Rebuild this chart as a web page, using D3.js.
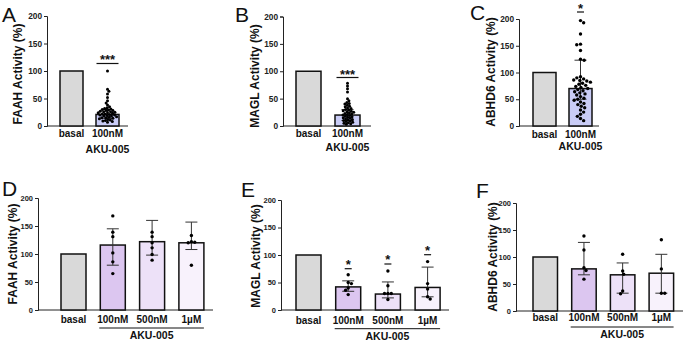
<!DOCTYPE html>
<html><head><meta charset="utf-8">
<script src="https://cdn.jsdelivr.net/npm/d3@7"></script>
<style>
html,body{margin:0;padding:0;background:#fff;}
svg{display:block;font-family:"Liberation Sans",Arial,sans-serif;}
</style></head>
<body>
<svg id="chart" width="685" height="342"></svg>
<script>
// ---------- DATA ----------
const yTicks = [0, 50, 100, 150, 200];
const catsTop = ["basal", "100nM"];
const catsBottom = ["basal", "100nM", "500nM", "1µM"];
const groupLabel = "AKU-005";
const letters = ["A", "B", "C", "D", "E", "F"];
const yTitles = ["FAAH Activity (%)", "MAGL Activity (%)", "ABHD6 Activity (%)",
                 "FAAH Activity (%)", "MAGL Activity (%)", "ABHD6 Activity (%)"];

// Panel A – FAAH, top
const barsA = [100, 21];
const pointsA = [[], [100, 67, 63, 58, 52, 46, 42, 38, 35, 33, 32, 31, 30, 29, 28, 28, 27, 26, 26, 25, 24, 24, 23, 22, 22, 21, 20, 20, 19, 18, 18, 17, 16, 15, 15, 14, 13, 12, 11, 10, 9, 8, 7]];
const errA = [null, [14, 30]];
const sigA = [null, "***"];

// Panel B – MAGL, top
const barsB = [100, 20];
const pointsB = [[], [78, 73, 68, 62, 50, 46, 43, 41, 40, 38, 36, 35, 33, 32, 30, 29, 28, 27, 26, 25, 24, 23, 22, 21, 20, 19, 18, 17, 16, 15, 14, 13, 12, 11, 10, 9, 8, 7, 6, 5, 4, 3]];
const errB = [null, [10, 30]];
const sigB = [null, "***"];

// Panel C – ABHD6, top
const barsC = [100, 70];
const pointsC = [[], [197, 193, 172, 153, 152, 141, 125, 123, 92, 90, 88, 86, 85, 84, 82, 80, 78, 76, 74, 72, 70, 68, 66, 64, 62, 60, 58, 55, 52, 50, 48, 45, 42, 40, 37, 34, 30, 26, 22, 18, 14, 10]];
const errC = [null, [50, 123]];
const sigC = [null, "*"];

// Panel D – FAAH, bottom
const barsD = [100, 116, 122, 120];
const pointsD = [[], [168, 139, 131, 102, 86, 65], [139, 131, 120, 111, 99, 89], [133, 122, 121, 120, 80]];
const errD = [null, [80, 145], [98, 160], [108, 157]];
const sigD = [null, null, null, null];

// Panel E – MAGL, bottom
const barsE = [100, 42, 29, 41];
const pointsE = [[], [64, 50, 48, 40, 36, 28], [71, 44, 30, 30, 30, 19], [88, 48, 38, 24, 20]];
const errE = [null, [34, 53], [22, 51], [24, 78]];
const sigE = [null, "*", "*", "*"];

// Panel F – ABHD6, bottom
const barsF = [100, 78, 67, 70];
const pointsF = [[], [139, 113, 80, 75, 59], [105, 74, 68, 37, 32], [132, 78, 33, 33]];
const errF = [null, [67, 127], [33, 89], [33, 105]];
const sigF = [null, null, null, null];

// ---------- LAYOUT / STYLE ----------
const fillTop = ["#d9d9d9", "#c9ccf6"];
const fillBottom = ["#d9d9d9", "#dcc6f0", "#ede1f8", "#f8f2fc"];

const panels = [
  {cats: catsTop, bars: barsA, pts: pointsA, err: errA, sig: sigA, fills: fillTop,
   x0: 60, step: 36, bw: 23, axisX: 47, axisEnd: 128, y200: 16, yZero: 126,
   letter: [2, 22], title: [18, 74], labelY: 137, groupY: 153, tickFs: 8.3,
   sigC: [null, 56], sigL: [null, 63.5], sigW: 22, r: 1.5, D: 2.6},
  {cats: catsTop, bars: barsB, pts: pointsB, err: errB, sig: sigB, fills: fillTop,
   x0: 296, step: 39, bw: 25, axisX: 283, axisEnd: 371, y200: 16.5, yZero: 126,
   letter: [235, 22], title: [255, 76], labelY: 137, groupY: 151, tickFs: 8.3,
   sigC: [null, 71], sigL: [null, 77.5], sigW: 22, r: 1.5, D: 2.6},
  {cats: catsTop, bars: barsC, pts: pointsC, err: errC, sig: sigC, fills: fillTop,
   x0: 533, step: 36, bw: 23, axisX: 519, axisEnd: 599, y200: 19, yZero: 126,
   letter: [470, 20], title: [491, 72], labelY: 137.5, groupY: 150, tickFs: 8.3,
   sigC: [null, 5], sigL: [null, 12], sigW: 7, r: 1.7, D: 3.8},
  {cats: catsBottom, bars: barsD, pts: pointsD, err: errD, sig: sigD, fills: fillBottom,
   x0: 61, step: 39.3, bw: 25, axisX: 38, axisEnd: 213, y200: 198, yZero: 310,
   letter: [2, 196], title: [13, 254], labelY: 322.5, groupY: 339, bracketY: 328, tickFs: 7.5,
   sigC: [], sigL: [], sigW: 7, r: 1.7, D: 3.4},
  {cats: catsBottom, bars: barsE, pts: pointsE, err: errE, sig: sigE, fills: fillBottom,
   x0: 296, step: 39.7, bw: 25, axisX: 281, axisEnd: 449, y200: 200, yZero: 310,
   letter: [241, 197], title: [256, 256], labelY: 323.5, groupY: 340, bracketY: 328.7, tickFs: 7.5,
   sigC: [null, 261, 256, 247.5], sigL: [null, 268.7, 264, 254.7], sigW: 7, r: 1.7, D: 3.4},
  {cats: catsBottom, bars: barsF, pts: pointsF, err: errF, sig: sigF, fills: fillBottom,
   x0: 533, step: 38.7, bw: 24.5, axisX: 516, axisEnd: 683, y200: 203, yZero: 311,
   letter: [476, 198], title: [493, 257], labelY: 320.5, groupY: 338, bracketY: 327, tickFs: 7.5,
   sigC: [], sigL: [], sigW: 7, r: 1.7, D: 3.4}
];

const svg = d3.select("#chart");

function swarm(vals, y, D) {
  const placed = [];
  let flip = 1;
  return vals.map(v => {
    const py = y(v);
    const near = placed.filter(p => Math.abs(p.y - py) < D);
    const cands = [0];
    near.forEach(p => {
      const dx = Math.sqrt(D * D - (p.y - py) ** 2);
      cands.push(p.x + dx + 1e-6, p.x - dx - 1e-6);
    });
    cands.sort((a, b) => Math.abs(a) - Math.abs(b) || (flip * (b - a)));
    const x = cands.find(c => near.every(p => (p.x - c) ** 2 + (p.y - py) ** 2 >= D * D - 1e-3));
    if (x !== 0) flip = -flip;
    placed.push({x, y: py});
    return x;
  });
}

panels.forEach((P, pi) => {
  const n = P.cats.length;
  const pIn = 1 - P.bw / P.step;
  const x = d3.scaleBand().domain(P.cats)
    .range([P.x0, P.x0 + P.step * (n - pIn)])
    .paddingInner(pIn).paddingOuter(0);
  const y = d3.scaleLinear().domain([0, 200]).range([P.yZero, P.y200]);
  const g = svg.append("g");

  // letter
  g.append("text").attr("x", P.letter[0]).attr("y", P.letter[1])
    .attr("font-size", 21).attr("fill", "#111").text(letters[pi]);

  // y title
  g.append("text").attr("transform", `translate(${P.title[0]},${P.title[1]}) rotate(-90)`)
    .attr("text-anchor", "middle").attr("dy", "0.35em")
    .attr("font-size", 12).attr("font-weight", "bold").attr("fill", "#111")
    .text(yTitles[pi]);

  // y axis
  const ya = g.append("g").attr("transform", `translate(${P.axisX},0)`)
    .call(d3.axisLeft(y).tickValues(yTicks).tickSize(3).tickPadding(2).tickFormat(d3.format("d")));
  ya.select(".domain").attr("stroke", "#222").attr("stroke-width", 1);
  ya.selectAll(".tick line").attr("stroke", "#222");
  ya.selectAll(".tick text").attr("font-size", P.tickFs).attr("font-weight", "bold")
    .attr("font-family", "Liberation Sans, Arial, sans-serif").attr("fill", "#222");

  // x axis line
  g.append("line").attr("x1", P.axisX).attr("x2", P.axisEnd)
    .attr("y1", y(0)).attr("y2", y(0)).attr("stroke", "#222").attr("stroke-width", 1);

  // bars
  g.selectAll("rect.bar").data(P.cats).join("rect")
    .attr("x", d => x(d)).attr("width", x.bandwidth())
    .attr("y", (d, i) => y(P.bars[i])).attr("height", (d, i) => y(0) - y(P.bars[i]))
    .attr("fill", (d, i) => P.fills[i]).attr("stroke", "#111").attr("stroke-width", 1.5);

  // error bars
  P.cats.forEach((c, i) => {
    const e = P.err[i];
    if (!e) return;
    const cx = x(c) + x.bandwidth() / 2;
    const cw = 6;
    g.append("line").attr("x1", cx).attr("x2", cx).attr("y1", y(e[0])).attr("y2", y(e[1]))
      .attr("stroke", "#333").attr("stroke-width", 1);
    [e[0], e[1]].forEach(v => g.append("line").attr("x1", cx - cw).attr("x2", cx + cw)
      .attr("y1", y(v)).attr("y2", y(v)).attr("stroke", "#333").attr("stroke-width", 1));
  });

  // points
  P.cats.forEach((c, i) => {
    const vals = P.pts[i];
    if (!vals.length) return;
    const cx = x(c) + x.bandwidth() / 2;
    const offs = swarm(vals, y, P.D);
    g.selectAll(null).data(vals).join("circle")
      .attr("cx", (d, k) => cx + offs[k]).attr("cy", d => y(d))
      .attr("r", P.r).attr("fill", "#000");
  });

  // significance
  P.cats.forEach((c, i) => {
    const s = P.sig[i];
    if (!s) return;
    const cx = x(c) + x.bandwidth() / 2;
    const fs = 13;
    g.append("text").attr("x", cx).attr("y", P.sigC[i] + 0.58 * fs)
      .attr("text-anchor", "middle").attr("font-size", fs).attr("font-weight", "bold")
      .attr("fill", "#111").text(s);
    g.append("line").attr("x1", cx - P.sigW / 2).attr("x2", cx + P.sigW / 2)
      .attr("y1", P.sigL[i]).attr("y2", P.sigL[i]).attr("stroke", "#111").attr("stroke-width", 1.2);
  });

  // x labels
  g.selectAll("text.xl").data(P.cats).join("text")
    .attr("x", d => x(d) + x.bandwidth() / 2).attr("y", P.labelY)
    .attr("text-anchor", "middle").attr("font-size", 10).attr("font-weight", "bold")
    .attr("fill", "#111").text(d => d);

  if (n === 2) {
    g.append("text").attr("x", x(P.cats[1]) + x.bandwidth() / 2).attr("y", P.groupY)
      .attr("text-anchor", "middle").attr("font-size", 10.5).attr("font-weight", "bold")
      .attr("fill", "#111").text(groupLabel);
  } else {
    const bx1 = x(P.cats[1]) - 1, bx2 = x(P.cats[n - 1]) + x.bandwidth();
    g.append("line").attr("x1", bx1).attr("x2", bx2).attr("y1", P.bracketY).attr("y2", P.bracketY)
      .attr("stroke", "#111").attr("stroke-width", 1);
    g.append("text").attr("x", (bx1 + bx2) / 2).attr("y", P.groupY)
      .attr("text-anchor", "middle").attr("font-size", 10.5).attr("font-weight", "bold")
      .attr("fill", "#111").text(groupLabel);
  }
});
</script>
</body></html>
